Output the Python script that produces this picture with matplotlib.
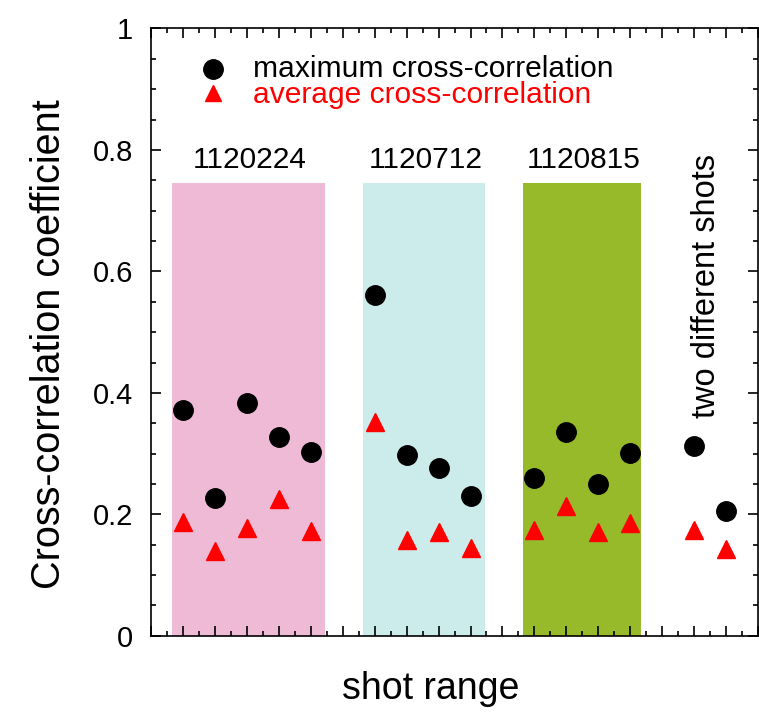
import numpy as np
import matplotlib
matplotlib.use("Agg")
import matplotlib.pyplot as plt
from matplotlib.patches import Rectangle
from matplotlib.ticker import MultipleLocator, NullFormatter

plt.rcParams['font.family'] = ['Liberation Sans', 'DejaVu Sans']

# shot index along x
shot = [1, 2, 3, 4, 5, 7, 8, 9, 10, 12, 13, 14, 15, 17, 18]
max_cc = [0.372, 0.227, 0.383, 0.327, 0.302,
          0.561, 0.298, 0.276, 0.230,
          0.260, 0.335, 0.250, 0.301,
          0.312, 0.206]
avg_cc = [0.187, 0.139, 0.178, 0.226, 0.173,
          0.352, 0.158, 0.171, 0.144,
          0.174, 0.213, 0.171, 0.186,
          0.174, 0.143]

# shot groups (label, x start, x end, colour)
groups = ['1120224', '1120712', '1120815']
grp_lo = [0.65, 6.65, 11.65]
grp_hi = [5.45, 10.45, 15.35]
grp_col = ['#EEBAD6', '#CCECEB', '#97BA2B']
grp_top = 0.745

fig = plt.figure(figsize=(7.59, 7.12), dpi=100)
ax = fig.add_axes([0.199, 0.107, 0.7997, 0.853])

for lab, lo, hi, c in zip(groups, grp_lo, grp_hi, grp_col):
    ax.add_patch(Rectangle((lo, 0), hi - lo, grp_top, facecolor=c, edgecolor='none', zorder=0))
    ax.text((lo + hi) / 2 + 0.05, 0.783, lab, ha='center', va='center', fontsize=21.5)

ax.text(17.4, 0.576, 'two different shots', rotation=90, ha='center', va='center', fontsize=23.5)

ax.plot(shot, max_cc, 'o', color='black', ms=14, zorder=3)
ax.plot(shot, avg_cc, '^', color='red', ms=12.5, zorder=3)

# hand-made legend
ax.plot([1.95], [0.933], 'o', color='black', ms=14)
ax.plot([1.95], [0.893], '^', color='red', ms=12)
ax.text(3.2, 0.933, 'maximum cross-correlation', va='center', fontsize=21.6, color='black')
ax.text(3.2, 0.891, 'average cross-correlation', va='center', fontsize=21.6, color='red')

ax.set_xlim(0, 19)
ax.set_ylim(0, 1)
ax.xaxis.set_major_locator(MultipleLocator(1))
ax.xaxis.set_minor_locator(MultipleLocator(0.5))
ax.xaxis.set_major_formatter(NullFormatter())
ax.yaxis.set_major_locator(MultipleLocator(0.2))
ax.yaxis.set_minor_locator(MultipleLocator(0.05))
ax.set_yticks([0, 0.2, 0.4, 0.6, 0.8, 1])
ax.set_yticklabels(['0', '0.2', '0.4', '0.6', '0.8', '1'])
ax.tick_params(which='both', direction='in', top=True, right=True, width=1.2)
ax.tick_params(which='major', length=7.5, labelsize=21, pad=13)
ax.tick_params(which='minor', length=3.8)
for s in ax.spines.values():
    s.set_linewidth(1.2)

xl = ax.set_xlabel('shot range', fontsize=27)
xl.set_va('center')
ax.xaxis.set_label_coords(0.461, -0.088)
yl = ax.set_ylabel('Cross-correlation coefficient', fontsize=28.5)
yl.set_va('center')
ax.yaxis.set_label_coords(-0.168, 0.48)

fig.savefig('out.png', dpi=100)
